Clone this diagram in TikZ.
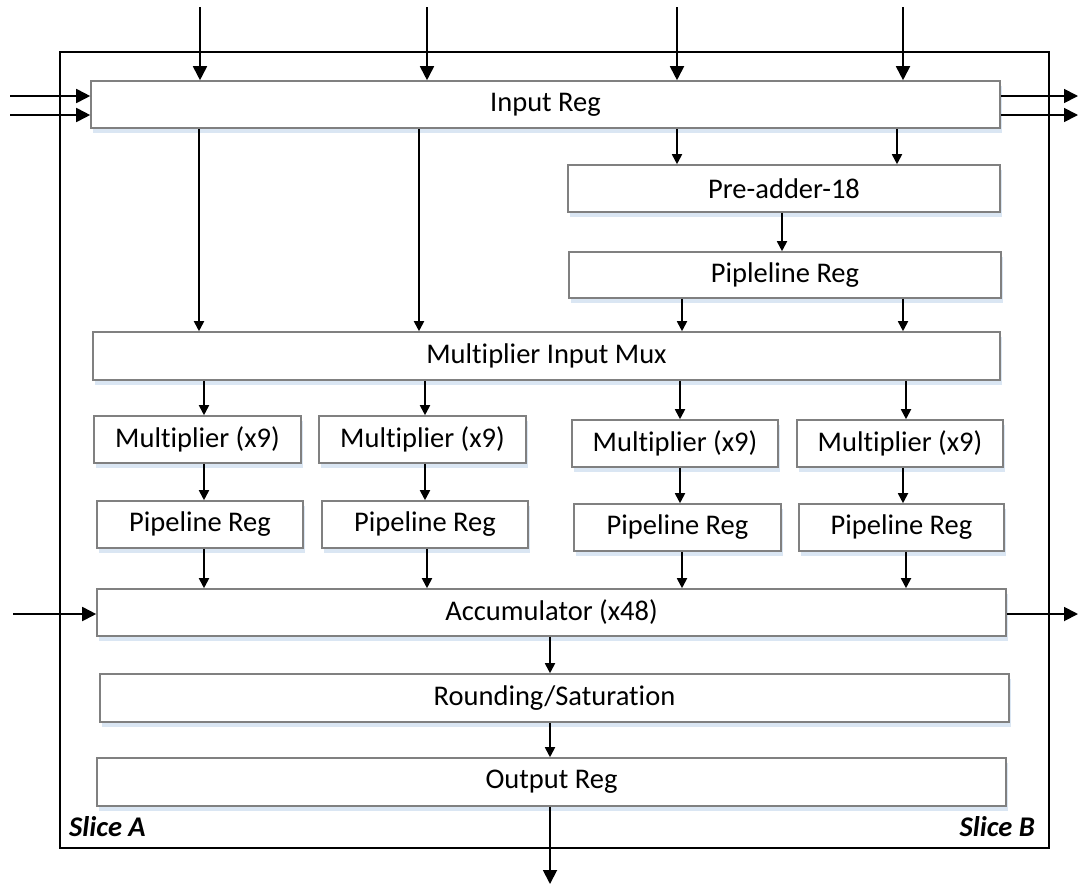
\documentclass[tikz,border=0pt]{standalone}
\usepackage{fontspec}
\setmainfont{Carlito}[Ligatures=NoCommon]
\usetikzlibrary{arrows.meta,shadows}
\definecolor{boxgray}{RGB}{128,128,128}
\definecolor{shadowblue}{RGB}{218,230,243}
\tikzset{
  blk/.style={draw=boxgray, line width=1.6pt, fill=white, inner sep=0pt,
    font=\fontsize{28.5}{32}\selectfont,
    drop shadow={shadow xshift=2pt, shadow yshift=-5pt, fill=shadowblue, opacity=1}},
  bigarr/.style={line width=1.8pt, -{Triangle[length=14pt,width=14pt]}},
  arr/.style={line width=1.8pt, -{Triangle[length=10pt,width=10pt]}},
  slicelbl/.style={font=\fontsize{28.5}{32}\selectfont\bfseries\itshape, inner sep=0pt}
}
\begin{document}
\begin{tikzpicture}[x=1pt,y=-1pt]
\useasboundingbox (0,0) rectangle (1078,884);
% frame
\draw[line width=2pt] (60,52) rectangle (1049,848);
% boxes
\node[blk, minimum width=909pt, minimum height=47pt] (inreg) at (545.5,104.5) {Input Reg};
\node[blk, minimum width=432pt, minimum height=47pt] (pread) at (784,188.5) {Pre-adder-18};
\node[blk, minimum width=432pt, minimum height=46pt] (pipe0) at (785,275) {Pipleline Reg};
\node[blk, minimum width=907pt, minimum height=48pt] (mux) at (546.5,356) {Multiplier Input Mux};
\node[blk, minimum width=207pt, minimum height=47pt] (m1) at (197.5,439.5) {Multiplier (x9)};
\node[blk, minimum width=207pt, minimum height=47pt] (m2) at (422.5,439.5) {Multiplier (x9)};
\node[blk, minimum width=206pt, minimum height=47pt] (m3) at (675,443.5) {Multiplier (x9)};
\node[blk, minimum width=206pt, minimum height=47pt] (m4) at (900,443.5) {Multiplier (x9)};
\node[blk, minimum width=206pt, minimum height=47pt] (p1) at (200,524.5) {Pipeline Reg};
\node[blk, minimum width=206pt, minimum height=47pt] (p2) at (425,524.5) {Pipeline Reg};
\node[blk, minimum width=207pt, minimum height=47pt] (p3) at (677.5,527.5) {Pipeline Reg};
\node[blk, minimum width=205pt, minimum height=47pt] (p4) at (901.5,527.5) {Pipeline Reg};
\node[blk, minimum width=909pt, minimum height=47pt] (acc) at (551.5,612.5) {Accumulator (x48)};
\node[blk, minimum width=909pt, minimum height=48pt] (rnd) at (554.5,698) {Rounding/Saturation};
\node[blk, minimum width=909pt, minimum height=48pt] (outreg) at (551.5,782) {Output Reg};
% labels
\node[slicelbl, anchor=base west] (sa) at (69,836) {Slice A};
\node[slicelbl, anchor=base east] (sb) at (1035,836) {Slice B};
% free ends
\coordinate (t1) at (200,7);
\coordinate (t2) at (427,7);
\coordinate (t3) at (677,7);
\coordinate (t4) at (903,7);
\coordinate (l1) at (10,96);
\coordinate (l2) at (10,115);
\coordinate (r1) at (1078,96);
\coordinate (r2) at (1078,115);
\coordinate (la) at (13,614);
\coordinate (ra) at (1078,614);
\coordinate (bo) at (550,884);
% top inputs
\foreach \t in {t1,t2,t3,t4} \draw[bigarr] (\t) -- (\t |- inreg.north);
\draw[bigarr] (l1) -- (l1 -| inreg.west);
\draw[bigarr] (l2) -- (l2 -| inreg.west);
\draw[bigarr] (r1 -| inreg.east) -- (r1);
\draw[bigarr] (r2 -| inreg.east) -- (r2);
% input reg to mux / preadder
\draw[arr] (inreg.south -| 199,0) -- (mux.north -| 199,0);
\draw[arr] (inreg.south -| 419,0) -- (mux.north -| 419,0);
\draw[arr] (inreg.south -| 677,0) -- (pread.north -| 677,0);
\draw[arr] (inreg.south -| 897,0) -- (pread.north -| 897,0);
\draw[arr] (pread.south -| 782,0) -- (pipe0.north -| 782,0);
\draw[arr] (pipe0.south -| 682,0) -- (mux.north -| 682,0);
\draw[arr] (pipe0.south -| 903,0) -- (mux.north -| 903,0);
% mux to multipliers
\draw[arr] (mux.south -| 204,0) -- (m1.north -| 204,0);
\draw[arr] (mux.south -| 425,0) -- (m2.north -| 425,0);
\draw[arr] (mux.south -| 680,0) -- (m3.north -| 680,0);
\draw[arr] (mux.south -| 906,0) -- (m4.north -| 906,0);
% multipliers to pipeline regs
\draw[arr] (m1.south -| 204,0) -- (p1.north -| 204,0);
\draw[arr] (m2.south -| 425,0) -- (p2.north -| 425,0);
\draw[arr] (m3.south -| 680,0) -- (p3.north -| 680,0);
\draw[arr] (m4.south -| 903,0) -- (p4.north -| 903,0);
% pipeline regs to accumulator
\draw[arr] (p1.south -| 204,0) -- (acc.north -| 204,0);
\draw[arr] (p2.south -| 427,0) -- (acc.north -| 427,0);
\draw[arr] (p3.south -| 682,0) -- (acc.north -| 682,0);
\draw[arr] (p4.south -| 906,0) -- (acc.north -| 906,0);
% accumulator io
\draw[bigarr] (la) -- (la -| acc.west);
\draw[bigarr] (ra -| acc.east) -- (ra);
% chain
\draw[arr] (acc.south -| 550,0) -- (rnd.north -| 550,0);
\draw[arr] (rnd.south -| 550,0) -- (outreg.north -| 550,0);
\draw[bigarr] (outreg.south -| bo) -- (bo);
\end{tikzpicture}
\end{document}
